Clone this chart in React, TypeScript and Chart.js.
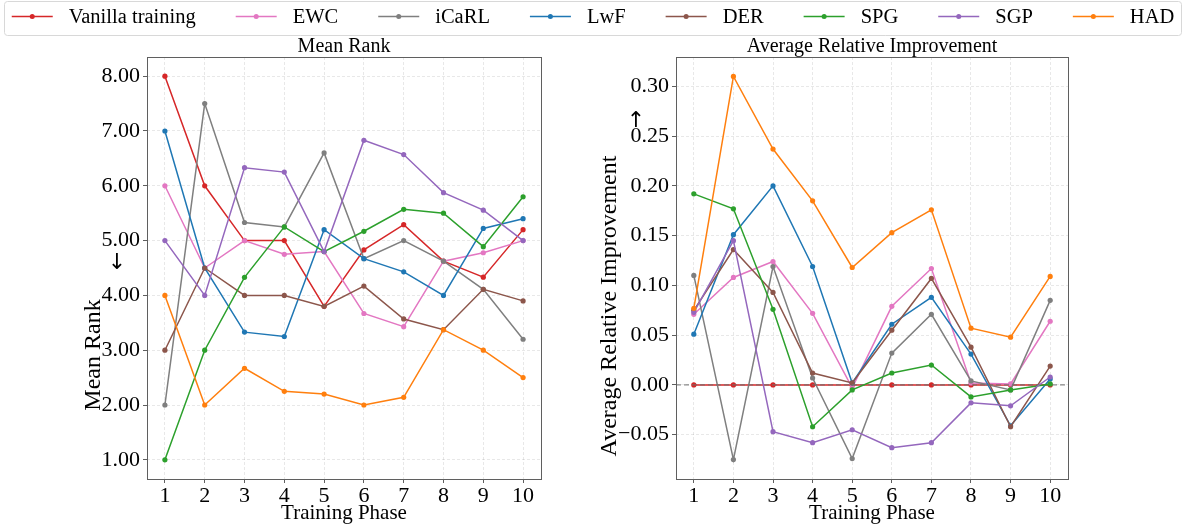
import React, { useEffect, useRef } from "react";
import { Chart, registerables } from "chart.js";
Chart.register(...registerables);

const phases = [1, 2, 3, 4, 5, 6, 7, 8, 9, 10];
const methodNames = ["Vanilla training", "EWC", "iCaRL", "LwF", "DER", "SPG", "SGP", "HAD"];
const methodColors = ["#d62728", "#e377c2", "#7f7f7f", "#1f77b4", "#8c564b", "#2ca02c", "#9467bd", "#ff7f0e"];

// Mean Rank (lower is better)
const rankVanilla = [8.0, 6.0, 5.0, 5.0, 3.8, 4.83, 5.29, 4.625, 4.333, 5.2];
const rankEWC = [6.0, 4.5, 5.0, 4.75, 4.8, 3.67, 3.43, 4.625, 4.778, 5.0];
const rankICaRL = [2.0, 7.5, 5.33, 5.25, 6.6, 4.67, 5.0, 4.625, 4.111, 3.2];
const rankLwF = [7.0, 4.5, 3.33, 3.25, 5.2, 4.67, 4.43, 4.0, 5.222, 5.4];
const rankDER = [3.0, 4.5, 4.0, 4.0, 3.8, 4.17, 3.57, 3.375, 4.111, 3.9];
const rankSPG = [1.0, 3.0, 4.33, 5.25, 4.8, 5.17, 5.57, 5.5, 4.889, 5.8];
const rankSGP = [5.0, 4.0, 6.33, 6.25, 4.8, 6.83, 6.57, 5.875, 5.556, 5.0];
const rankHAD = [4.0, 2.0, 2.67, 2.25, 2.2, 2.0, 2.14, 3.375, 3.0, 2.5];

// Average Relative Improvement (higher is better)
const impVanilla = [0, 0, 0, 0, 0, 0, 0, 0, 0, 0];
const impEWC = [0.071, 0.108, 0.124, 0.072, -0.003, 0.079, 0.117, 0.002, 0.001, 0.064];
const impICaRL = [0.11, -0.075, 0.119, 0.007, -0.074, 0.032, 0.071, 0.004, -0.005, 0.085];
const impLwF = [0.051, 0.151, 0.2, 0.119, 0.002, 0.061, 0.088, 0.031, -0.041, 0.006];
const impDER = [0.075, 0.136, 0.093, 0.012, 0.002, 0.055, 0.107, 0.038, -0.042, 0.019];
const impSPG = [0.192, 0.177, 0.076, -0.042, -0.005, 0.012, 0.02, -0.012, -0.005, 0.001];
const impSGP = [0.073, 0.145, -0.047, -0.058, -0.045, -0.063, -0.058, -0.018, -0.021, 0.008];
const impHAD = [0.077, 0.31, 0.237, 0.185, 0.118, 0.153, 0.176, 0.057, 0.048, 0.109];

const rankTicks = [1, 2, 3, 4, 5, 6, 7, 8];
const impTicks = [-0.05, 0, 0.05, 0.1, 0.15, 0.2, 0.25, 0.3];

const FONT = "'Liberation Serif', 'Times New Roman', serif";
const GRID = "rgba(0,0,0,0.09)";
const SPINE = "#5f5f5f";

function fmt(v: number) {
  const s = Math.abs(v).toFixed(2);
  return v < -1e-9 ? "\u2212" + s : s;
}

function buildDatasets(series: number[][]) {
  return series.map((vals, i) => ({
    label: methodNames[i],
    data: phases.map((p, j) => ({ x: p, y: vals[j] })),
    borderColor: methodColors[i],
    backgroundColor: methodColors[i],
    pointBackgroundColor: methodColors[i],
    pointBorderColor: methodColors[i],
    pointRadius: 2.6,
    pointBorderWidth: 0,
    borderWidth: 1.5,
    tension: 0,
    order: 20 - i,
  }));
}

type Cfg = {
  title: string;
  yTitle: string;
  arrow: string;
  series: number[][];
  yMin: number;
  yMax: number;
  yTicks: number[];
  yWidth: number;
  padRight: number;
  yTitleX: number;
  yTitleY: number;
  arrowX: number;
  arrowY: number;
  zeroLine: boolean;
};

function makeChart(canvas: HTMLCanvasElement, cfg: Cfg) {
  const datasets: any[] = buildDatasets(cfg.series);
  if (cfg.zeroLine) {
    datasets.push({
      label: "zero",
      data: [
        { x: 0.55, y: 0 },
        { x: 10.45, y: 0 },
      ],
      borderColor: "rgba(110,110,110,0.8)",
      borderDash: [5, 3],
      borderWidth: 1.2,
      pointRadius: 0,
      order: 15,
    });
  }
  const framePlugin = {
    id: "frame",
    afterDatasetsDraw(chart: any) {
      const { ctx, chartArea: a } = chart;
      ctx.save();
      ctx.strokeStyle = SPINE;
      ctx.lineWidth = 1;
      ctx.strokeRect(Math.round(a.left) + 0.5, Math.round(a.top) + 0.5, Math.round(a.right - a.left), Math.round(a.bottom - a.top));
      ctx.restore();
    },
    afterDraw(chart: any) {
      const { ctx, chartArea: a } = chart;
      ctx.save();
      ctx.fillStyle = "#000";
      ctx.font = "20px " + FONT;
      ctx.textAlign = "center";
      ctx.textBaseline = "middle";
      ctx.fillText(cfg.title, (a.left + a.right) / 2, 47);
      ctx.restore();
      ctx.save();
      ctx.fillStyle = "#000";
      ctx.font = "24px " + FONT;
      ctx.translate(cfg.yTitleX, cfg.yTitleY);
      ctx.rotate(-Math.PI / 2);
      ctx.textAlign = "center";
      ctx.textBaseline = "middle";
      ctx.fillText(cfg.yTitle, 0, 0);
      ctx.restore();
      ctx.save();
      ctx.fillStyle = "#000";
      ctx.font = "22px 'DejaVu Sans', " + FONT;
      ctx.textAlign = "center";
      ctx.textBaseline = "middle";
      ctx.fillText(cfg.arrow, cfg.arrowX, cfg.arrowY);
      ctx.restore();
    },
  };
  return new Chart(canvas, {
    type: "line",
    data: { datasets },
    options: {
      animation: false,
      responsive: false,
      maintainAspectRatio: false,
      layout: { padding: { left: 0, right: cfg.padRight, top: 57, bottom: 0 } },
      plugins: {
        legend: { display: false },
        tooltip: { enabled: false },
        title: { display: false },
      },
      scales: {
        x: {
          type: "linear",
          min: 0.55,
          max: 10.45,
          afterBuildTicks: (s: any) => {
            s.ticks = phases.map((v) => ({ value: v }));
          },
          afterFit: (s: any) => {
            s.height = 48;
          },
          ticks: {
            color: "#000",
            font: { family: FONT, size: 22, lineHeight: 1 },
            padding: 2,
            autoSkip: false,
            maxRotation: 0,
            callback: (v: any) => String(v),
          },
          grid: { color: GRID, tickColor: SPINE, tickLength: 4, tickBorderDash: [], lineWidth: 1 },
          border: { display: false, dash: [3, 2] },
          title: {
            display: true,
            text: "Training Phase",
            color: "#000",
            font: { family: FONT, size: 21, lineHeight: 1 },
            padding: { top: 0, bottom: 3 },
          },
        },
        y: {
          type: "linear",
          min: cfg.yMin,
          max: cfg.yMax,
          afterBuildTicks: (s: any) => {
            s.ticks = cfg.yTicks.map((v) => ({ value: v }));
          },
          afterFit: (s: any) => {
            s.width = cfg.yWidth;
          },
          ticks: {
            color: "#000",
            font: { family: FONT, size: 22, lineHeight: 1 },
            padding: 3,
            callback: (v: any) => fmt(Number(v)),
          },
          grid: { color: GRID, tickColor: SPINE, tickLength: 4, tickBorderDash: [], lineWidth: 1 },
          border: { display: false, dash: [3, 2] },
        },
      },
    },
    plugins: [framePlugin],
  } as any);
}

function makeLegend(canvas: HTMLCanvasElement) {
  const legendPlugin = {
    id: "customLegend",
    afterDraw(chart: any) {
      const ctx = chart.ctx as CanvasRenderingContext2D;
      ctx.save();
      ctx.strokeStyle = "#d8d8d8";
      ctx.lineWidth = 1;
      ctx.beginPath();
      (ctx as any).roundRect(4.5, 1.5, 1177, 34, 3);
      ctx.stroke();
      ctx.font = "20.5px " + FONT;
      const markerW = 41;
      const gapMT = 16;
      const gapItems = 40;
      const ds = chart.data.datasets;
      const widths = ds.map((d: any) => ctx.measureText(d.label).width);
      let total = 0;
      widths.forEach((w: number) => (total += markerW + gapMT + w));
      total += gapItems * (ds.length - 1);
      let x = 593 - total / 2;
      const my = 16.5;
      ds.forEach((d: any, i: number) => {
        ctx.strokeStyle = d.borderColor;
        ctx.lineWidth = 1.5;
        ctx.beginPath();
        ctx.moveTo(x, my);
        ctx.lineTo(x + markerW, my);
        ctx.stroke();
        ctx.fillStyle = d.borderColor;
        ctx.beginPath();
        ctx.arc(x + markerW / 2, my, 2.5, 0, Math.PI * 2);
        ctx.fill();
        ctx.fillStyle = "#000";
        ctx.textAlign = "left";
        ctx.textBaseline = "middle";
        ctx.fillText(d.label, x + markerW + gapMT, 18);
        x += markerW + gapMT + widths[i] + gapItems;
      });
      ctx.restore();
    },
  };
  return new Chart(canvas, {
    type: "line",
    data: {
      datasets: methodNames.map((n, i) => ({ label: n, data: [], borderColor: methodColors[i], backgroundColor: methodColors[i] })),
    },
    options: {
      animation: false,
      responsive: false,
      maintainAspectRatio: false,
      plugins: { legend: { display: false }, tooltip: { enabled: false } },
      scales: { x: { display: false }, y: { display: false } },
    },
    plugins: [legendPlugin],
  } as any);
}

export default function App() {
  const leftRef = useRef<HTMLCanvasElement>(null);
  const rightRef = useRef<HTMLCanvasElement>(null);
  const legendRef = useRef<HTMLCanvasElement>(null);
  useEffect(() => {
    document.body.style.margin = "0";
    Chart.defaults.font.family = FONT;
    const left = makeChart(leftRef.current!, {
      title: "Mean Rank",
      yTitle: "Mean Rank",
      arrow: "\u2193",
      series: [rankVanilla, rankEWC, rankICaRL, rankLwF, rankDER, rankSPG, rankSGP, rankHAD],
      yMin: 0.65,
      yMax: 8.35,
      yTicks: rankTicks,
      yWidth: 147,
      padRight: 59,
      yTitleX: 94,
      yTitleY: 355,
      arrowX: 117,
      arrowY: 263,
      zeroLine: false,
    });
    const right = makeChart(rightRef.current!, {
      title: "Average Relative Improvement",
      yTitle: "Average Relative Improvement",
      arrow: "\u2191",
      series: [impVanilla, impEWC, impICaRL, impLwF, impDER, impSPG, impSGP, impHAD],
      yMin: -0.0945,
      yMax: 0.3295,
      yTicks: impTicks,
      yWidth: 86,
      padRight: 115,
      yTitleX: 20,
      yTitleY: 306,
      arrowX: 46,
      arrowY: 121,
      zeroLine: true,
    });
    const legend = makeLegend(legendRef.current!);
    return () => {
      left.destroy();
      right.destroy();
      legend.destroy();
    };
  }, []);
  return (
    <div style={{ position: "relative", width: 1183, height: 527, background: "#fff", overflow: "hidden" }}>
      <canvas ref={leftRef} width={600} height={527} style={{ position: "absolute", left: 0, top: 0, width: 600, height: 527 }} />
      <canvas ref={rightRef} width={593} height={527} style={{ position: "absolute", left: 590, top: 0, width: 593, height: 527 }} />
      <canvas ref={legendRef} width={1183} height={40} style={{ position: "absolute", left: 0, top: 0, width: 1183, height: 40, pointerEvents: "none" }} />
    </div>
  );
}
